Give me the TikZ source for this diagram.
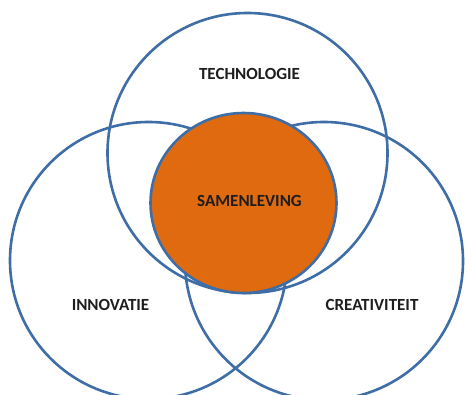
\documentclass[tikz,border=0pt]{standalone}
\usepackage{fontspec}
\setmainfont{Carlito}
\definecolor{ringblue}{HTML}{3F6EA6}
\definecolor{samorange}{HTML}{DF6A10}
\definecolor{labelgray}{HTML}{1E1E1E}
\begin{document}
\begin{tikzpicture}[x=1pt,y=-1pt,
  ring/.style={draw=ringblue,line width=2.6pt},
  lbl/.style={font=\fontsize{17}{19}\selectfont\bfseries,text=labelgray,inner sep=0pt}]
\useasboundingbox[fill=white] (0,0) rectangle (465,394);
\draw[ring] (247.5,153) circle[radius=140];
\draw[ring] (148.5,260.5) circle[radius=138.5];
\draw[ring] (324,261) circle[radius=139];
\draw[ring,fill=samorange] (243.5,203) ellipse[x radius=93,y radius=90];
\node[lbl] (tech) at (249.5,74) {TECHNOLOGIE};
\node[lbl] (sam) at (249.5,201) {SAMENLEVING};
\node[lbl] (inno) at (110.5,305) {INNOVATIE};
\node[lbl] (crea) at (372,305) {CREATIVITEIT};
\end{tikzpicture}
\end{document}
